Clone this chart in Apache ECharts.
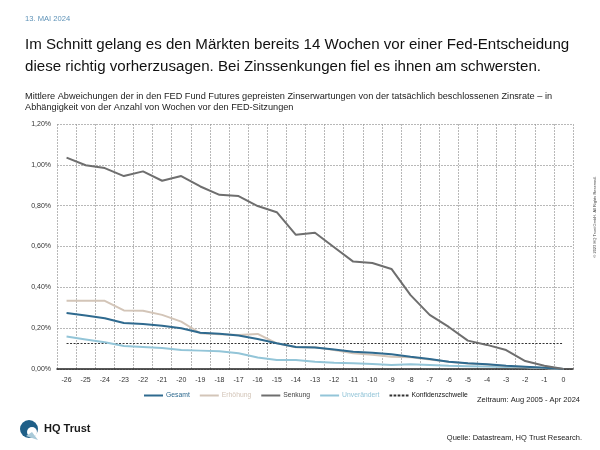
<!DOCTYPE html>
<html><head><meta charset="utf-8">
<script src="https://cdn.jsdelivr.net/npm/echarts@6/dist/echarts.min.js"></script>
<style>html,body{margin:0;padding:0;background:#fff}#c{width:600px;height:450px}</style>
</head><body><div id="c"></div>
<script>
const categories = ['-26','-25','-24','-23','-22','-21','-20','-19','-18','-17','-16','-15','-14','-13','-12','-11','-10','-9','-8','-7','-6','-5','-4','-3','-2','-1','0'];
const gesamt = [0.274,0.262,0.249,0.225,0.220,0.212,0.200,0.178,0.173,0.164,0.147,0.126,0.108,0.105,0.095,0.085,0.080,0.072,0.060,0.049,0.036,0.028,0.023,0.016,0.011,0.006,0];
const erhoehung = [0.334,0.334,0.334,0.287,0.285,0.265,0.232,0.175,0.170,0.167,0.172,0.126,0.107,0.107,0.093,0.077,0.070,0.060,0.058,0.047,0.035,0.027,0.022,0.015,0.010,0.005,0];
const senkung = [1.035,0.998,0.984,0.945,0.968,0.922,0.945,0.894,0.853,0.847,0.798,0.768,0.657,0.667,0.596,0.526,0.519,0.490,0.362,0.265,0.206,0.139,0.118,0.093,0.039,0.016,0];
const unveraendert = [0.159,0.145,0.131,0.113,0.108,0.103,0.093,0.090,0.087,0.077,0.056,0.044,0.044,0.036,0.031,0.028,0.025,0.020,0.023,0.020,0.016,0.014,0.012,0.010,0.008,0.005,0];
const konfidenz = [0.125,0.125,0.125,0.125,0.125,0.125,0.125,0.125,0.125,0.125,0.125,0.125,0.125,0.125,0.125,0.125,0.125,0.125,0.125,0.125,0.125,0.125,0.125,0.125,0.125,0.125,0.125];
const yTicks = [0, 0.2, 0.4, 0.6, 0.8, 1.0, 1.2];

const FONT = '"Liberation Sans", Arial, sans-serif';
const C_GES = '#2f6a8f', C_ERH = '#d3c5b8', C_SEN = '#6e6e6e', C_UNV = '#93c5d8';
const DASH_ICON = 'path://M0,0h3v2h-3z M4.5,0h3v2h-3z M9,0h3v2h-3z M13.5,0h3v2h-3z M18,0h3v2h-3z';

const chart = echarts.init(document.getElementById('c'), null, {renderer: 'canvas'});
function line(name, data, color, extra) {
  return Object.assign({
    name, type: 'line', data, showSymbol: false, symbol: 'none',
    lineStyle: {color, width: 2}, itemStyle: {color}
  }, extra || {});
}
chart.setOption({
  animation: false,
  textStyle: {fontFamily: FONT},
  title: [
    {text: '13. MAI 2024', left: 20, top: 10, textStyle: {fontSize: 7.6, fontWeight: 'normal', color: '#5f93b8', fontFamily: FONT}},
    {text: 'Im Schnitt gelang es den Märkten bereits 14 Wochen vor einer Fed-Entscheidung\ndiese richtig vorherzusagen. Bei Zinssenkungen fiel es ihnen am schwersten.',
     left: 20, top: 29, textStyle: {fontSize: 15.1, fontWeight: 'normal', color: '#111', lineHeight: 22, fontFamily: FONT}},
    {text: 'Mittlere Abweichungen der in den FED Fund Futures gepreisten Zinserwartungen von der tatsächlich beschlossenen Zinsrate – in\nAbhängigkeit von der Anzahl von Wochen vor den FED-Sitzungen',
     left: 20, top: 86, textStyle: {fontSize: 9.2, fontWeight: 'normal', color: '#222', lineHeight: 11, fontFamily: FONT}},
    {text: 'Zeitraum: Aug 2005 - Apr 2024', right: 15, top: 391, textStyle: {fontSize: 7.5, fontWeight: 'normal', color: '#222', fontFamily: FONT}},
    {text: 'Quelle: Datastream, HQ Trust Research.', right: 13, top: 429, textStyle: {fontSize: 7.5, fontWeight: 'normal', color: '#222', fontFamily: FONT}}
  ],
  graphic: [
    {type: 'circle', shape: {cx: 29, cy: 429, r: 9}, style: {fill: '#1f5f88'}},
    {type: 'circle', shape: {cx: 32, cy: 432, r: 5}, style: {fill: '#ffffff'}},
    {type: 'polygon', shape: {points: [[26, 436], [38, 440], [32, 432]]}, style: {fill: '#a9cad9'}},
    {type: 'text', left: 44, top: 423, style: {text: 'HQ Trust', font: 'bold 11px ' + FONT, fill: '#1a1a1a'}},
    {type: 'text', x: 595, y: 217, rotation: Math.PI / 2, style: {text: '© 2023 HQ Trust GmbH. All Rights Reserved.', font: '4px ' + FONT, fill: '#444', align: 'center', verticalAlign: 'middle'}}
  ],
  legend: {
    top: 387, left: 139, itemWidth: 19, itemHeight: 2, itemGap: 10,
    icon: 'rect',
    textStyle: {fontSize: 6.8, fontFamily: FONT, padding: [0, 0, 0, -2]},
    data: [
      {name: 'Gesamt', textStyle: {color: C_GES}},
      {name: 'Erhöhung', textStyle: {color: C_ERH}},
      {name: 'Senkung', textStyle: {color: '#444'}},
      {name: 'Unverändert', textStyle: {color: C_UNV}},
      {name: 'Konfidenzschwelle', icon: DASH_ICON, textStyle: {color: '#111'}}
    ]
  },
  grid: {left: 57, right: 27, top: 124, bottom: 81, containLabel: false},
  xAxis: {
    type: 'category', data: categories, boundaryGap: true,
    axisLine: {lineStyle: {color: '#222', width: 1.5}},
    axisTick: {show: false},
    axisLabel: {fontSize: 7, color: '#333', margin: 8},
    splitLine: {show: true, lineStyle: {color: '#999', type: [2, 1], width: 0.7}}
  },
  yAxis: {
    type: 'value', min: 0, max: 1.2, interval: 0.2,
    axisLine: {show: false}, axisTick: {show: false},
    axisLabel: {fontSize: 7, color: '#333', margin: 6,
      formatter: v => yTicks.indexOf(Math.round(v * 10) / 10) >= 0 ? v.toFixed(2).replace('.', ',') + '%' : ''},
    splitLine: {lineStyle: {color: '#999', type: [2, 1], width: 0.7}}
  },
  series: [
    line('Gesamt', gesamt, C_GES, {z: 4}),
    line('Erhöhung', erhoehung, C_ERH, {z: 3}),
    line('Senkung', senkung, C_SEN, {z: 5}),
    line('Unverändert', unveraendert, C_UNV, {z: 2}),
    line('Konfidenzschwelle', konfidenz, '#333', {lineStyle: {color: '#333', width: 1.2, type: [2, 1.5]}, z: 1})
  ]
});
</script></body></html>
